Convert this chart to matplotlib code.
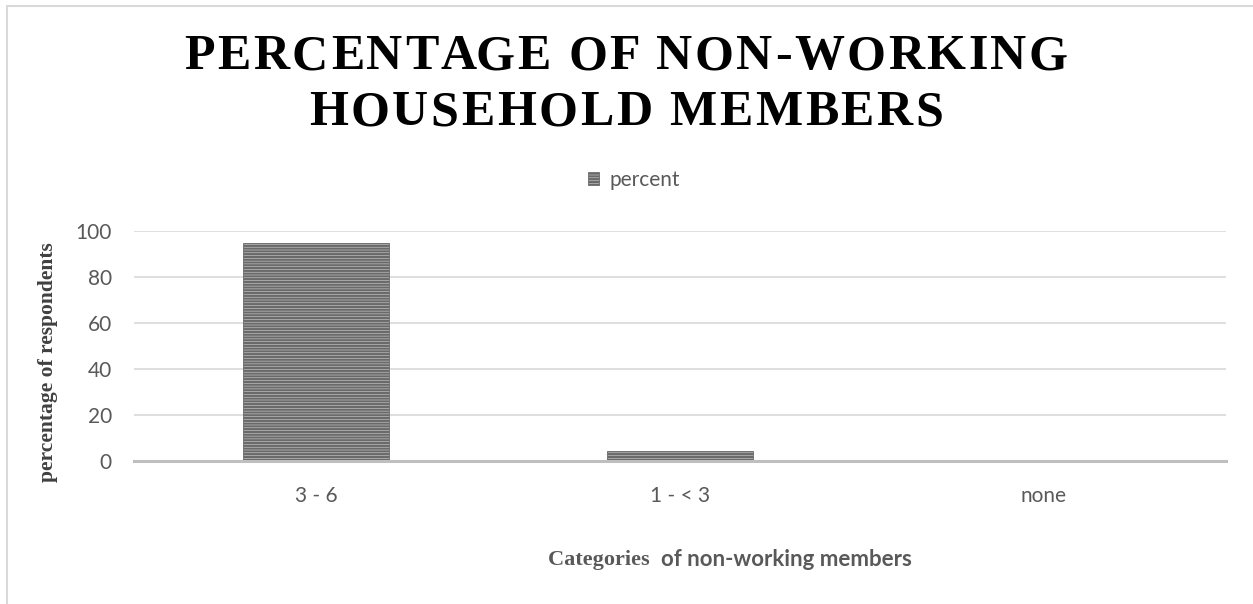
import matplotlib
matplotlib.use('Agg')
import matplotlib.pyplot as plt
from matplotlib.patches import Rectangle
from matplotlib.font_manager import FontProperties

categories = ['3 - 6', '1 - < 3', 'none']
percent = [94.6, 4.3, 0]
yticks = [0, 20, 40, 60, 80, 100]

title_lines = ['PERCENTAGE OF NON-WORKING', 'HOUSEHOLD MEMBERS']
grey = '#595959'

plt.rcParams['hatch.color'] = '#5e5e5e'
plt.rcParams['hatch.linewidth'] = 1.6

W, H = 1253, 604
fig = plt.figure(figsize=(W / 100, H / 100), dpi=100)
ax = fig.add_axes([134 / W, 1 - 461 / H, (1226 - 134) / W, (461 - 231) / H])

ax.bar(categories, percent, width=0.4, color='#d4d4d4', hatch='------',
       edgecolor='#6a6a6a', linewidth=0.6, label='percent', zorder=3)
ax.set_xlim(-0.5, 2.5)
ax.set_ylim(0, 100)
ax.set_yticks(yticks)
ax.yaxis.grid(True, color='#d9d9d9', linewidth=1.2, zorder=0)
ax.axhline(0, color='#bfbfbf', linewidth=2.2, zorder=4, clip_on=False)
for s in ax.spines.values():
    s.set_visible(False)
ax.tick_params(length=0, labelcolor=grey, labelsize=15)
ax.tick_params(axis='y', pad=16)
ax.tick_params(axis='x', pad=18)
for lab in ax.get_xticklabels() + ax.get_yticklabels():
    lab.set_family('Lato')

leg = fig.legend(loc='center', bbox_to_anchor=(634 / W, 1 - 180 / H),
                 bbox_transform=fig.transFigure, frameon=False,
                 prop={'family': 'Lato', 'size': 15}, handlelength=0.5,
                 handleheight=0.6, handletextpad=0.5)
for t in leg.get_texts():
    t.set_color(grey)

# y label
fig.text(48 / W, 1 - 362 / H, 'percentage of respondents', rotation=90,
         ha='center', va='center', family='Liberation Serif', weight='bold',
         size=15.5, color='#404040')

# x label: serif word + sans remainder
t1 = fig.text(548 / W, 1 - 565 / H, 'Categories  ', family='Liberation Serif',
              weight='bold', size=16, color=grey, va='baseline')
ax.annotate('of non-working members', xy=(1, 0), xycoords=t1, va='bottom',
            ha='left', family='Lato', weight='bold', size=16, color=grey)

# title with letter spacing
renderer = fig.canvas.get_renderer()
fp = FontProperties(family='Liberation Serif', weight='bold', size=36)


def text_w(s):
    w, h, d = renderer.get_text_width_height_descent(s + 'I', fp, ismath=False)
    wi, _, _ = renderer.get_text_width_height_descent('I', fp, ismath=False)
    return w - wi


line1 = title_lines[0]
track = (883 - text_w(line1)) / (len(line1) - 1)
for line, base in zip(title_lines, [69, 125]):
    total = text_w(line) + track * (len(line) - 1)
    x0 = 626 - total / 2
    for i, ch in enumerate(line):
        x = x0 + text_w(line[:i]) + i * track
        fig.text(x / W, 1 - base / H, ch, fontproperties=fp, va='baseline',
                 ha='left', color='black')

# chart border
fig.patches.append(Rectangle((7 / W, -0.2), 1.2, 1.2 - 6.5 / H, transform=fig.transFigure,
                             fill=False, edgecolor='#d9d9d9', linewidth=1.5))

fig.savefig('out.png', dpi=100)
